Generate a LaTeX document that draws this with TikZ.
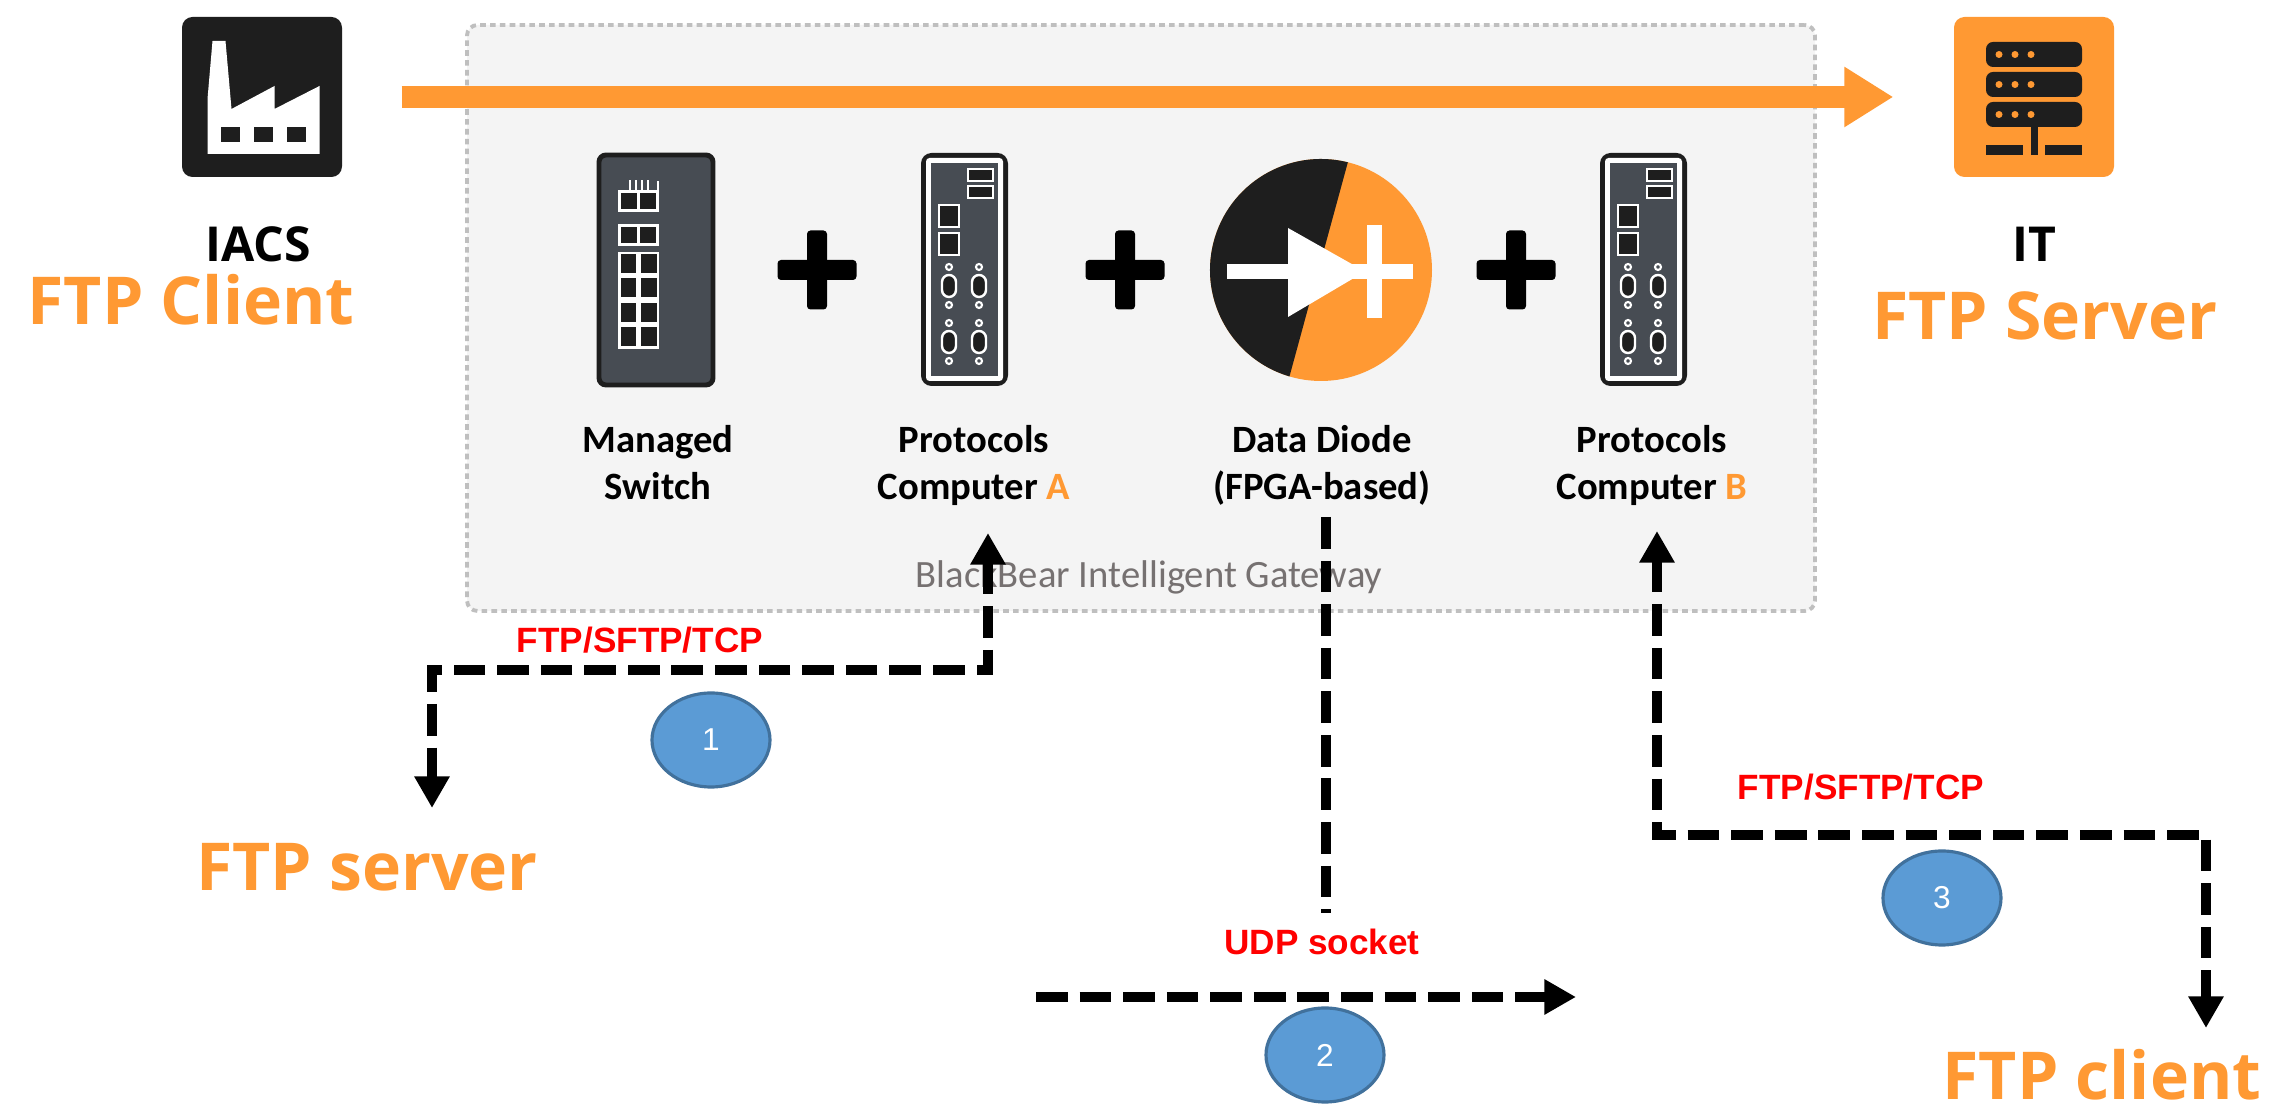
\documentclass[tikz,border=0pt]{standalone}
\usepackage{fontspec}
\setmainfont{Carlito}
\newfontfamily\headfont{Open Sans}
\newfontfamily\protofont{Liberation Sans}
\usepackage{tikz}
\usetikzlibrary{arrows.meta, positioning, shapes.geometric, calc}

\definecolor{bbOrange}{HTML}{FF9933}
\definecolor{bbDark}{HTML}{1E1E1E}
\definecolor{bbPanel}{HTML}{474C53}
\definecolor{bbBox}{HTML}{F4F4F4}
\definecolor{bbFrame}{HTML}{BFBFBF}
\definecolor{bbBlue}{HTML}{5B9BD5}
\definecolor{bbBlueEdge}{HTML}{41719C}
\definecolor{bbGrey}{HTML}{767171}

\tikzset{
  icon/.style={rounded corners=3pt, inner sep=0pt, minimum size=1.6cm},
  unit/.style={fill=bbDark, rounded corners=3pt, inner sep=0pt, minimum width=0.87cm, minimum height=2.33cm},
  devlabel/.style={font=\fontsize{11}{13.4}\selectfont\bfseries, align=center, inner sep=0pt, anchor=base},
  bigtext/.style={font=\headfont\bfseries\fontsize{18.8}{22}\selectfont, text=bbOrange, inner sep=0pt, anchor=base},
  sidetext/.style={font=\headfont\bfseries\fontsize{13.7}{16}\selectfont, inner sep=0pt, anchor=base},
  proto/.style={font=\protofont\bfseries\fontsize{10}{12}\selectfont, text=red, inner sep=0pt, anchor=base},
  stepnum/.style={ellipse, fill=bbBlue, draw=bbBlueEdge, line width=0.9pt, minimum width=1.18cm,
    minimum height=0.94cm, text=white, font=\protofont\fontsize{9}{10}\selectfont},
  flow/.style={line width=2.8pt, dash pattern=on 9pt off 3.4pt, >={Triangle[length=9pt, width=9.5pt]}}
}

\begin{document}
\begin{tikzpicture}
  \fill[white] (0,0) rectangle (22.82,11.20);
  \useasboundingbox (0,0) rectangle (22.82,11.20);

  % Gateway frame
  \node[draw=bbFrame, fill=bbBox, line width=1.1pt, dash pattern=on 1.6pt off 1.2pt, rounded corners=3pt,
    minimum width=13.48cm, minimum height=5.86cm, inner sep=0pt] (gateway) at (11.41,8.02) {};
  \node[font=\fontsize{11}{13}\selectfont, text=bbGrey, inner sep=0pt, anchor=base] (gwname) at (11.49,5.32)
    {BlackBear Intelligent Gateway};

  % Factory and server icons
  \node[icon, fill=bbDark] (factory) at (2.62,10.23) {};
  \begin{scope}[shift={(factory.center)}]
    \fill[white] (-0.495,0.56) -- (-0.365,0.56) -- (-0.305,-0.12) -- (0.125,0.11) -- (0.125,-0.12)
      -- (0.575,0.11) -- (0.575,-0.57) -- (-0.545,-0.57) -- (-0.545,-0.02) -- cycle;
    \foreach \wx in {-0.415,-0.085,0.245}
      \fill[bbDark] (\wx,-0.45) rectangle ++(0.19,0.15);
  \end{scope}

  \node[icon, fill=bbOrange] (server) at (20.34,10.23) {};
  \begin{scope}[shift={(server.center)}]
    \foreach \by in {0.30,0.0,-0.30} {
      \fill[bbDark, rounded corners=2pt] (-0.48,\by) rectangle (0.48,\by+0.25);
      \foreach \dx in {-0.35,-0.19,-0.03}
        \fill[bbOrange] (\dx,\by+0.125) circle (0.035);
    }
    \fill[bbDark] (-0.035,-0.30) rectangle (0.035,-0.58);
    \fill[bbDark] (-0.48,-0.58) rectangle (-0.11,-0.48);
    \fill[bbDark] (0.11,-0.58) rectangle (0.48,-0.48);
  \end{scope}

  % Main data flow
  \draw[bbOrange, line width=0.22cm, -{Triangle[length=0.49cm, width=0.57cm]}]
    ([xshift=0.59cm]factory.east) -- ([xshift=-0.60cm]server.west);

  \node[sidetext] (iacs) at (2.58,8.58) {IACS};
  \node[bigtext] (ftpcl) at (1.91,7.95) {FTP Client};
  \node[sidetext] (it) at (20.34,8.58) {IT};
  \node[bigtext] (ftpsv) at (20.45,7.80) {FTP Server};

  % Managed switch
  \node[draw=bbDark, line width=1.4pt, fill=bbPanel, rounded corners=2pt, minimum width=1.14cm,
    minimum height=2.30cm, inner sep=0pt] (switch) at (6.56,8.50) {};
  \begin{scope}[shift={(switch.center)}]
    \foreach \px in {-0.27,-0.21,-0.15,-0.09}
      \fill[white] (\px,0.80) rectangle ++(0.018,0.10);
    \fill[white] (0.01,0.80) rectangle (0.03,0.89);
    \foreach \ty in {0.58,0.24} {
      \fill[white] (-0.38,\ty) rectangle (0.03,\ty+0.22);
      \fill[bbDark] (-0.35,\ty+0.03) rectangle (-0.19,\ty+0.19);
      \fill[bbDark] (-0.16,\ty+0.03) rectangle (0.00,\ty+0.19);
    }
    \fill[white] (-0.38,-0.79) rectangle (0.03,0.18);
    \foreach \ry in {0.18,-0.06,-0.305,-0.55}
      \foreach \rx in {-0.38,-0.175}
        \fill[bbDark] (\rx+0.025,\ry-0.025) rectangle (\rx+0.18,\ry-0.215);
  \end{scope}

  % Protocol computers
  \node[unit] (compA) at (9.645,8.505) {};
  \node[unit] (compB) at (16.435,8.505) {};
  \foreach \c in {compA,compB} {
    \begin{scope}[shift={(\c.center)}]
      \fill[white, rounded corners=1pt] (-0.385,-1.115) rectangle (0.385,1.115);
      \fill[bbPanel] (-0.335,-1.065) rectangle (0.335,1.065);
      \foreach \sy in {0.885,0.715}
        \filldraw[fill=bbDark, draw=white, line width=0.6pt] (0.035,\sy) rectangle ++(0.25,0.12);
      \foreach \sy in {0.425,0.145}
        \filldraw[fill=bbDark, draw=white, line width=0.8pt] (-0.255,\sy) rectangle ++(0.20,0.22);
      \foreach \sx in {-0.155,0.145}
        \foreach \sy in {-0.165,-0.725} {
          \filldraw[fill=bbDark, draw=white, line width=0.7pt, rounded corners=2pt]
            (\sx-0.07,\sy-0.11) rectangle (\sx+0.07,\sy+0.11);
          \draw[white, line width=0.6pt] (\sx,\sy+0.19) circle (0.03) (\sx,\sy-0.19) circle (0.03);
        }
    \end{scope}
  }

  % Data diode
  \node[circle, fill=bbOrange, minimum size=2.22cm, inner sep=0pt] (diode) at (13.21,8.50) {};
  \fill[bbDark] (diode.center) ++(76:1.11) arc[start angle=76, end angle=253.5, radius=1.11] -- cycle;
  \begin{scope}[shift={(diode.center)}]
    \fill[white] (-0.94,-0.09) rectangle (0.92,0.06);
    \fill[white] (-0.33,0.42) -- (0.44,-0.015) -- (-0.33,-0.47) -- cycle;
    \fill[white] (0.46,-0.48) rectangle (0.61,0.45);
  \end{scope}

  % Plus signs
  \foreach \px in {8.17,11.25,15.16} {
    \fill[black, rounded corners=1pt] (\px-0.395,8.40) rectangle (\px+0.395,8.60);
    \fill[black, rounded corners=1pt] (\px-0.10,8.105) rectangle (\px+0.10,8.895);
  }

  % Device labels (base = last line)
  \node[devlabel] (labSw) at (6.58,6.20) {Managed\\Switch};
  \node[devlabel] (labA) at (9.74,6.20) {Protocols\\Computer \textcolor{bbOrange}{A}};
  \node[devlabel] (labDi) at (13.22,6.20) {Data Diode\\(FPGA-based)};
  \node[devlabel] (labB) at (16.52,6.20) {Protocols\\Computer \textcolor{bbOrange}{B}};

  % Endpoints
  \node[bigtext] (lsrv) at (3.67,2.29) {FTP server};
  \node[bigtext] (lcli) at (21.02,0.20) {FTP client};
  \coordinate (inA) at (9.88,5.87);
  \coordinate (outSrv) at (4.32,3.12);
  \coordinate (inB) at (16.57,5.89);
  \coordinate (outCli) at (22.06,0.92);
  \coordinate (diodeOut) at (13.26,6.03);
  \coordinate (udpEnd) at (13.26,2.07);
  \coordinate (udpFrom) at (10.36,1.23);
  \coordinate (udpTo) at (15.76,1.23);

  % Step 1
  \draw[flow, <->] (inA) -- ++(0,-1.37) -| (outSrv);
  \node[proto] (p1) at (6.40,4.67) {FTP/SFTP/TCP};
  \node[stepnum] (s1) at (7.11,3.80) {1};

  % Step 2
  \draw[flow] (diodeOut) -- (udpEnd);
  \draw[flow, ->] (udpFrom) -- (udpTo);
  \node[proto] (p2) at (13.22,1.65) {UDP socket};
  \node[stepnum] (s2) at (13.25,0.65) {2};

  % Step 3
  \draw[flow, <->] (inB) -- ++(0,-3.04) -| (outCli);
  \node[proto] (p3) at (18.61,3.20) {FTP/SFTP/TCP};
  \node[stepnum] (s3) at (19.42,2.22) {3};
\end{tikzpicture}
\end{document}
